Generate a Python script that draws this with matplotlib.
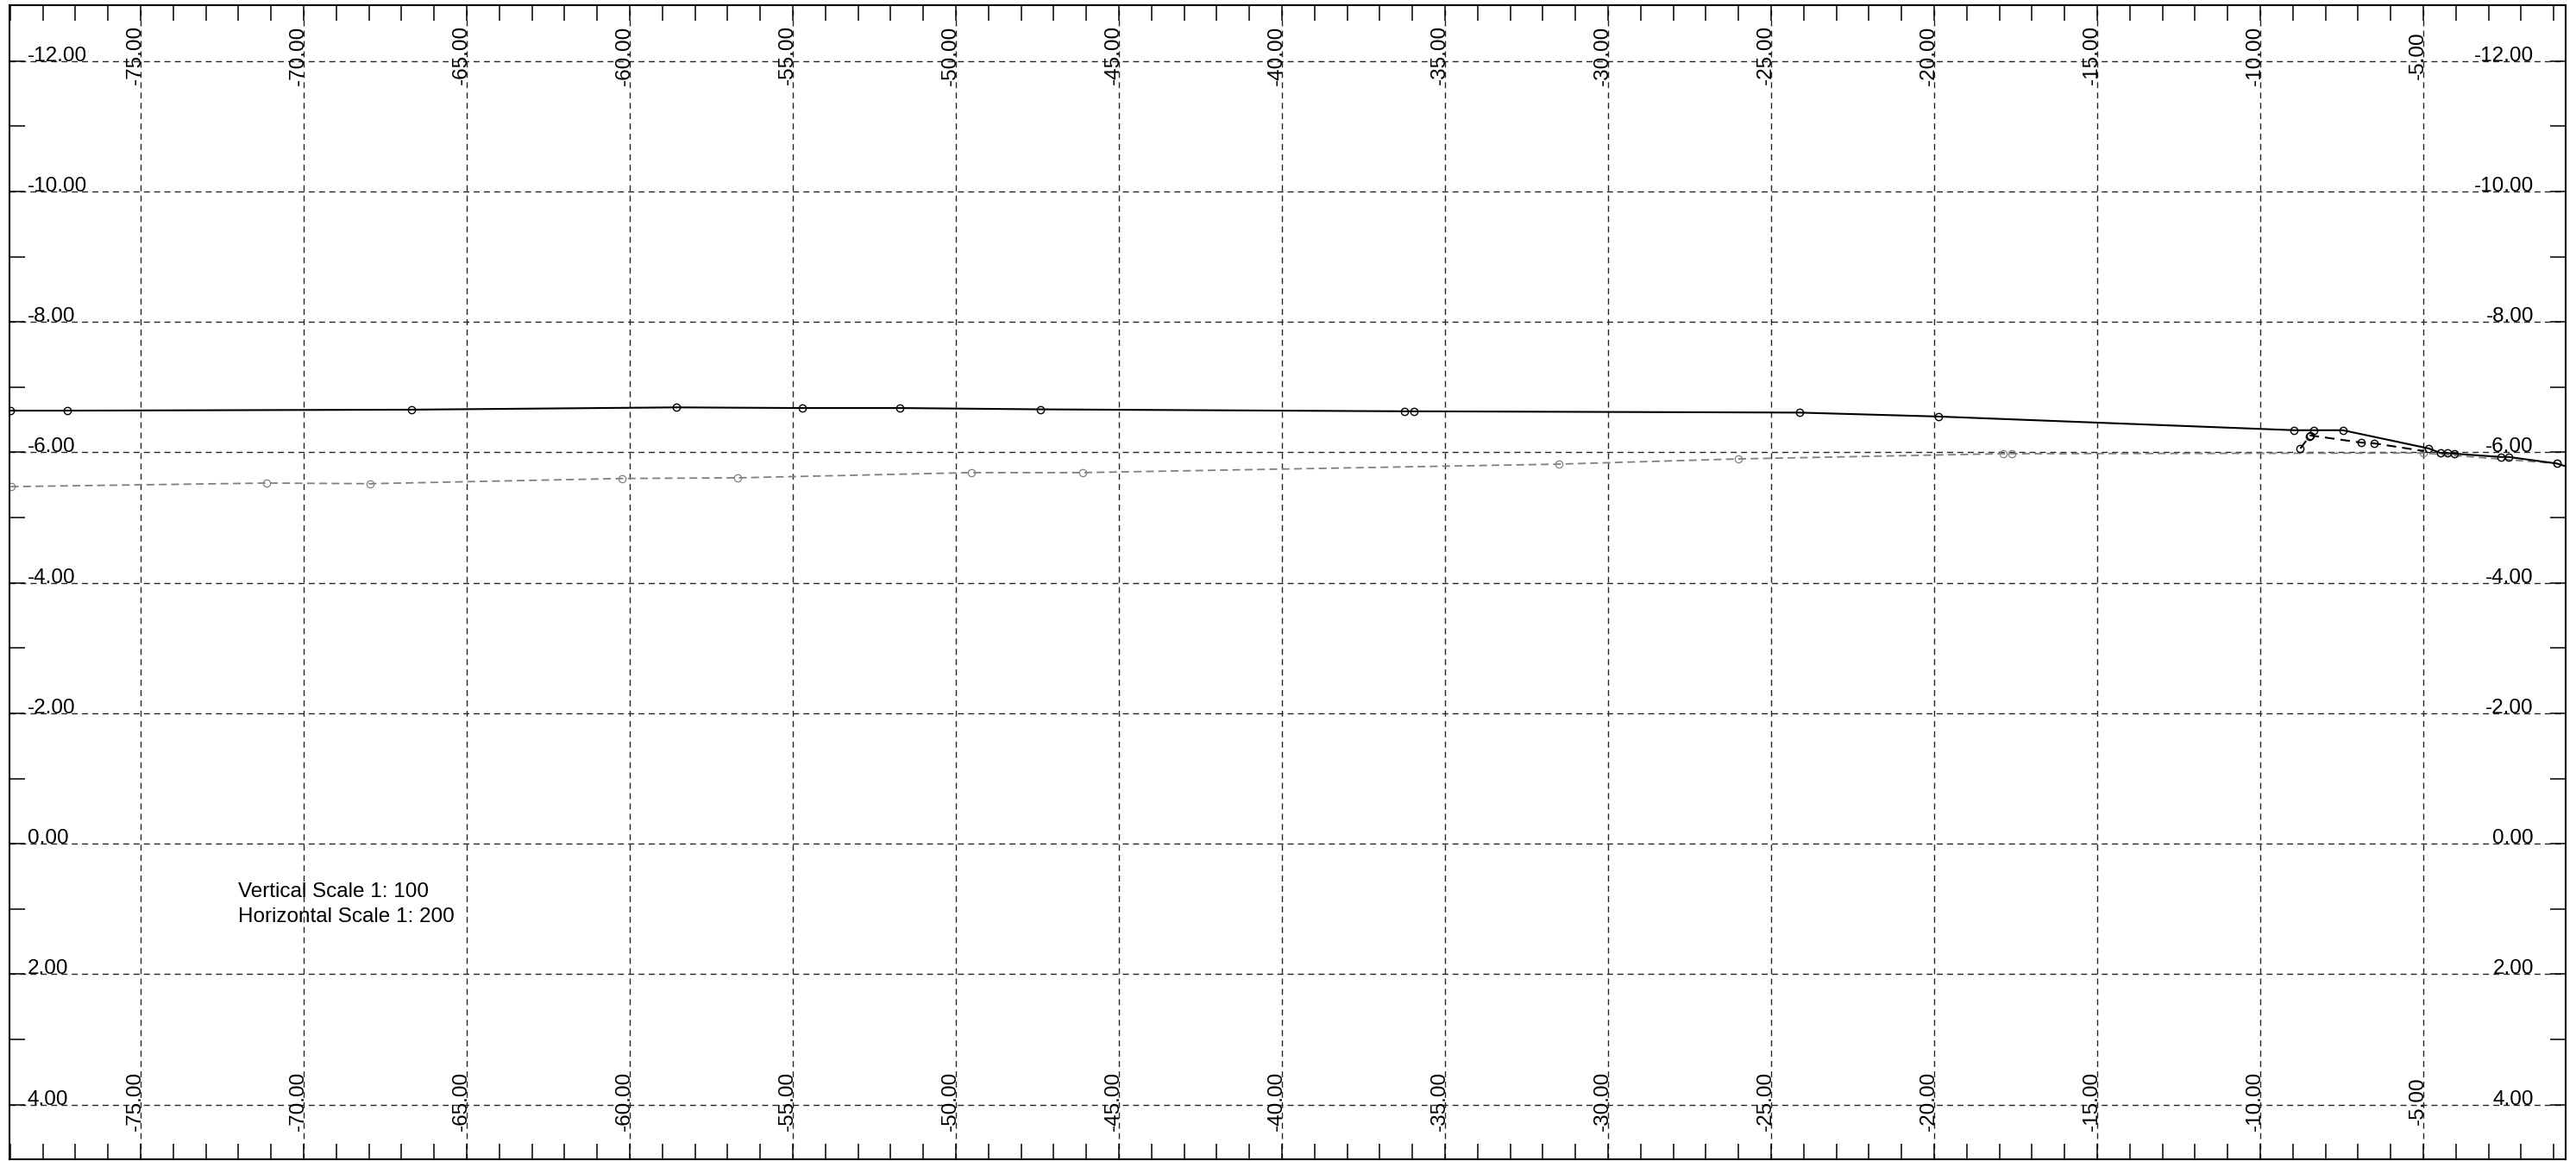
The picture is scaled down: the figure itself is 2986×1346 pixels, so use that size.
import numpy as np
import matplotlib

matplotlib.use("Agg")
import matplotlib.pyplot as plt
from matplotlib.ticker import MultipleLocator

plt.rcParams.update({
    "font.family": ["Liberation Sans", "DejaVu Sans"],
    "font.size": 17.5,
    "lines.scale_dashes": False,
})

# existing ground line (solid, black)
ground_x = [-79.0, -77.24, -66.70, -58.57, -54.71, -51.73, -47.41, -36.25,
            -35.96, -24.13, -19.88, -8.96, -8.35, -7.47, -4.83, -4.47,
            -4.26, -4.04, -2.63, -2.39, -0.91, -0.2]
ground_y = [-6.64, -6.64, -6.655, -6.69, -6.68, -6.68, -6.66, -6.63,
            -6.63, -6.61, -6.55, -6.34, -6.34, -6.34, -6.06, -5.99,
            -5.99, -5.98, -5.93, -5.93, -5.83, -5.72]

# earlier survey (grey dashed)
survey_x = [-78.98, -71.13, -67.97, -60.23, -56.70, -49.53, -46.11, -31.51,
            -26.0, -17.89, -17.62, -5.0, -0.91]
survey_y = [-5.475, -5.53, -5.52, -5.60, -5.61, -5.69, -5.69, -5.82,
            -5.90, -5.98, -5.98, -5.99, -5.83]

# design toe (black dashed)
toe_x = [-8.77, -8.50, -8.46, -6.90, -6.52, -4.98]
toe_y = [-6.06, -6.24, -6.26, -6.15, -6.14, -6.02]

x_grid = np.arange(-75, 0, 5)
y_grid = np.arange(-12, 5, 2)

W, H = 2986, 1346
fig = plt.figure(figsize=(W / 100, H / 100), dpi=100)
ax = fig.add_axes([11 / W, 2 / H, 2963 / W, 1338 / H])

ax.set_xlim(-79.02, -0.635)
ax.set_ylim(4.837, -12.856)   # depth-style axis, -12 on top

ax.set_xticks(x_grid)
ax.set_yticks(y_grid)
ax.xaxis.set_minor_locator(MultipleLocator(1))
ax.yaxis.set_minor_locator(MultipleLocator(1))
ax.tick_params(which="both", direction="in", length=13, width=1.1,
               top=True, right=True, labelbottom=False, labelleft=False)
ax.grid(True, which="major", color="#262626", lw=1.0, ls=(0, (5, 3.6)))
for sp in ax.spines.values():
    sp.set_linewidth(1.5)

ax.plot(survey_x, survey_y, color="#808080", lw=1.3, ls=(0, (6.5, 3.8)),
        marker="o", ms=6, mfc="none", mec="#808080", mew=0.9)
ax.plot(ground_x, ground_y, color="black", lw=1.5,
        marker="o", ms=6, mfc="none", mec="black", mew=1.0)
ax.plot(toe_x, toe_y, color="black", lw=1.5, ls=(0, (8, 5)),
        marker="o", ms=6, mfc="none", mec="black", mew=1.0,
        markevery=slice(0, -1))

# elevation labels inside the frame, both sides
for v in y_grid:
    ax.text(21 / 2963, v, f"{v:.2f}", transform=ax.get_yaxis_transform(),
            ha="left", va="baseline")
    ax.text(2926 / 2963, v, f"{v:.2f}", transform=ax.get_yaxis_transform(),
            ha="right", va="baseline")

# chainage labels, rotated, top and bottom
for v in x_grid:
    for yy in (-12.09, 3.94):
        ax.text(v, yy, f"{v:.2f}", rotation=90, rotation_mode="anchor",
                ha="center", va="baseline")

ax.text(-72.0, 0.817, "Vertical Scale 1: 100", ha="left", va="baseline")
ax.text(-72.0, 1.20, "Horizontal Scale 1: 200", ha="left", va="baseline")

fig.savefig("out.png", dpi=100)
